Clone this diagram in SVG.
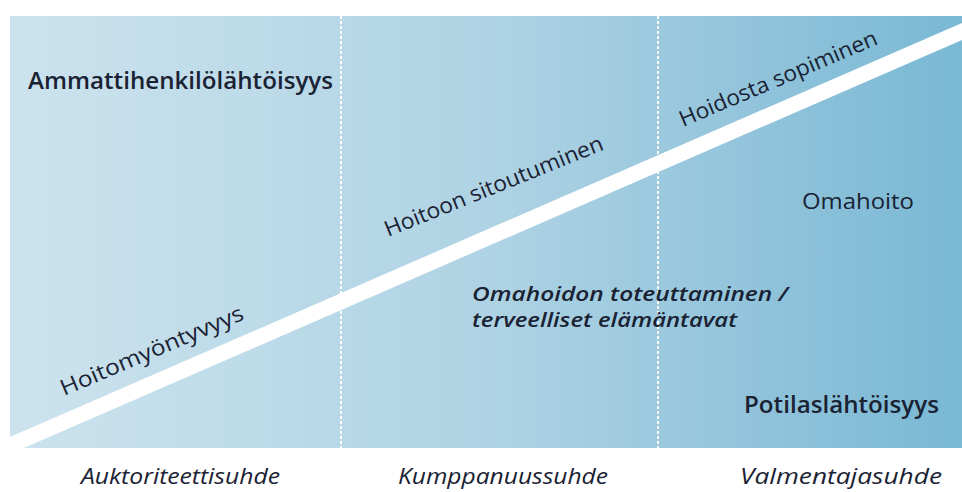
<svg xmlns="http://www.w3.org/2000/svg" width="962" height="492" viewBox="0 0 962 492">
<style>
.t{font-family:"Open Sans","Noto Sans","Liberation Sans",sans-serif;fill:#1a2233;}
.b{font-weight:600;font-size:23px;}
.r{font-weight:400;font-size:22px;}
.bi{font-weight:600;font-style:italic;font-size:19px;}
.i{font-weight:400;font-style:italic;font-size:21px;}
.dash{stroke:#ffffff;stroke-width:2;stroke-dasharray:3 2;fill:none;}
</style>
<defs>
<linearGradient id="bg" x1="10" y1="0" x2="962" y2="0" gradientUnits="userSpaceOnUse">
<stop offset="0" stop-color="#cce3ee"/>
<stop offset="0.5" stop-color="#afd3e4"/>
<stop offset="1" stop-color="#7ab8d4"/>
</linearGradient>
<clipPath id="clip"><rect x="10" y="16" width="952" height="432"/></clipPath>
</defs>
<g id="background">
<rect x="10" y="16" width="952" height="432" fill="url(#bg)"/>
</g>
<g id="connectors">
<line class="dash" x1="341" y1="16" x2="341" y2="448"/>
<line class="dash" x1="658" y1="16" x2="658" y2="448"/>
<polygon clip-path="url(#clip)" points="10,437 962,23 962,40 10,454" fill="#ffffff"/>
</g>
<g id="n-ammatti"><text class="t b" x="28" y="89" textLength="305" lengthAdjust="spacingAndGlyphs">Ammattihenkilölähtöisyys</text></g>
<g id="n-potilas"><text class="t b" x="744" y="413" textLength="195" lengthAdjust="spacingAndGlyphs">Potilaslähtöisyys</text></g>
<g id="n-omahoito"><text class="t r" x="802" y="209" textLength="112" lengthAdjust="spacingAndGlyphs">Omahoito</text></g>
<g id="n-toteuttaminen">
<text class="t bi" x="472" y="301" textLength="316" lengthAdjust="spacingAndGlyphs">Omahoidon toteuttaminen /</text>
<text class="t bi" x="472" y="327" textLength="265" lengthAdjust="spacingAndGlyphs">terveelliset elämäntavat</text>
</g>
<g id="n-hoitomyontyvyys"><text class="t r" transform="translate(64,396) rotate(-23)" x="0" y="0" textLength="197" lengthAdjust="spacingAndGlyphs">Hoitomyöntyvyys</text></g>
<g id="n-sitoutuminen"><text class="t r" transform="translate(388,237) rotate(-22)" x="0" y="0" textLength="234" lengthAdjust="spacingAndGlyphs">Hoitoon sitoutuminen</text></g>
<g id="n-sopiminen"><text class="t r" transform="translate(683,127) rotate(-23)" x="0" y="0" textLength="213" lengthAdjust="spacingAndGlyphs">Hoidosta sopiminen</text></g>
<g id="n-auktoriteetti"><text class="t i" x="81" y="484" textLength="199" lengthAdjust="spacingAndGlyphs">Auktoriteettisuhde</text></g>
<g id="n-kumppanuus"><text class="t i" x="398" y="484" textLength="210" lengthAdjust="spacingAndGlyphs">Kumppanuussuhde</text></g>
<g id="n-valmentaja"><text class="t i" x="740" y="484" textLength="202" lengthAdjust="spacingAndGlyphs">Valmentajasuhde</text></g>
</svg>
